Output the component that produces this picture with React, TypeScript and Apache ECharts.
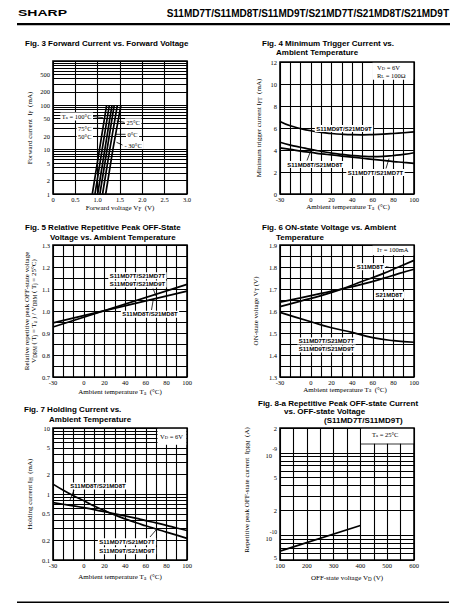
import React, { useEffect, useRef } from 'react';
import * as echarts from 'echarts';

// ---------- Fig. 3 Forward current vs forward voltage ----------
const fig3Current = [1, 10, 100];
const fig3V100 = [0.88, 1.04, 1.2];
const fig3V75 = [0.94, 1.1, 1.26];
const fig3V50 = [1.0, 1.16, 1.32];
const fig3V25 = [1.05, 1.21, 1.37];
const fig3V0 = [1.11, 1.27, 1.44];
const fig3Vm30 = [1.18, 1.34, 1.52];
const fig3YTicks = [1, 2, 5, 10, 20, 50, 100, 200, 500];

// ---------- Fig. 4 Minimum trigger current ----------
const fig4Temp = [-30, -20, -10, 0, 10, 20, 30, 40, 50, 60, 70, 80, 90, 100];
const fig4MD9 = [6.6, 6.2, 5.95, 5.75, 5.6, 5.5, 5.43, 5.39, 5.38, 5.4, 5.44, 5.5, 5.57, 5.65];
const fig4Upper = [4.7, 4.45, 4.25, 4.05, 3.88, 3.72, 3.6, 3.5, 3.43, 3.4, 3.42, 3.5, 3.6, 3.75];
const fig4Lower = [4.2, 4.05, 3.9, 3.78, 3.65, 3.55, 3.45, 3.35, 3.25, 3.15, 3.05, 2.95, 2.87, 2.78];

// ---------- Fig. 5 Relative repetitive peak OFF-state voltage ----------
const fig5Temp = [-30, 100];
const fig5MD79 = [0.927, 1.121];
const fig5MD8 = [0.946, 1.09];

// ---------- Fig. 6 ON-state voltage ----------
const fig6Temp = [-30, -10, 10, 30, 50, 70, 85, 100];
const fig6S11MD8 = [1.62, 1.645, 1.67, 1.7, 1.735, 1.77, 1.8, 1.83];
const fig6S21MD8 = [1.64, 1.66, 1.68, 1.7, 1.722, 1.748, 1.77, 1.79];
const fig6TempB = [-30, 0, 20, 40, 60, 80, 100];
const fig6MD79 = [1.594, 1.551, 1.524, 1.503, 1.479, 1.465, 1.458];

// ---------- Fig. 7 Holding current ----------
const fig7Temp = [-30, -20, -10, 0, 10, 20, 30, 40, 50, 60, 70, 80, 90, 100];
const fig7Steep = [1.41, 1.14, 0.94, 0.79, 0.66, 0.56, 0.48, 0.42, 0.37, 0.33, 0.295, 0.265, 0.238, 0.213];
const fig7Shallow = [0.74, 0.7, 0.66, 0.62, 0.58, 0.54, 0.5, 0.465, 0.43, 0.395, 0.365, 0.335, 0.305, 0.28];
const fig7YTicks = [0.1, 0.2, 0.5, 1, 2, 5, 10];

// ---------- Fig. 8-a Repetitive peak OFF-state current ----------
const fig8Voltage = [100, 400];
const fig8Current = [6.4e-11, 1.31e-10];
const fig8YTicks = [5e-11, 1e-10, 2e-10, 5e-10, 1e-9, 2e-9];

const serif = '"Liberation Serif", "Times New Roman", serif';
const sans = '"Liberation Sans", Arial, sans-serif';
const tickFont = { fontFamily: serif, fontSize: 6.5, color: '#000' };
const gridLine = { show: true, lineStyle: { color: '#000', width: 1.1 } };

const grids = [
  { left: 53, top: 61, width: 134, height: 133 },
  { left: 280, top: 62, width: 134, height: 132 },
  { left: 53, top: 245, width: 134, height: 132 },
  { left: 280, top: 245, width: 134, height: 132 },
  { left: 53, top: 428, width: 134, height: 132 },
  { left: 280, top: 428, width: 134, height: 132 },
];

function tempXAxis(i: number) {
  return {
    type: 'value', gridIndex: i, min: -30, max: 100, interval: 10,
    axisLine: { show: false }, axisTick: { show: false }, splitLine: gridLine,
    axisLabel: { ...tickFont, margin: 1.5, showMinLabel: true, showMaxLabel: true,
      formatter: (v: number) => (v === -30 || (v >= 0 && v % 20 === 0) ? String(v) : '') },
  };
}
function linYAxis(i: number, min: number, max: number, interval: number, fmt: (v: number) => string) {
  return {
    type: 'value', gridIndex: i, min, max, interval,
    axisLine: { show: false }, axisTick: { show: false }, splitLine: gridLine,
    axisLabel: { ...tickFont, margin: 3, showMinLabel: true, showMaxLabel: true, formatter: fmt },
  };
}
function logYAxis(i: number, min: number, max: number) {
  return {
    type: 'log', logBase: 10, gridIndex: i, min, max,
    axisLine: { show: false }, axisTick: { show: false }, splitLine: { show: false },
    axisLabel: { show: false }, minorTick: { show: false }, minorSplitLine: { show: false },
  };
}
function logLines(min: number, max: number, ticks: number[], fmt: (m: number, e: number) => string) {
  const out: any[] = [];
  for (let e = Math.floor(Math.log10(min)); e <= Math.ceil(Math.log10(max)); e++) {
    for (let m = 1; m <= 9; m++) {
      const v = m * Math.pow(10, e);
      if (v < min * 0.999 || v > max * 1.001) continue;
      const hit = ticks.some((t) => Math.abs(t - v) / v < 1e-6);
      const s = fmt(m, e);
      const isBottom = Math.abs(v - min) / v < 1e-6;
      out.push({
        yAxis: v,
        label: hit ? { show: true, formatter: () => s, padding: isBottom ? [0, 0, 6, 0] : 0 } : { show: false },
      });
    }
  }
  return out;
}
function curve(i: number, xs: number[], ys: number[], smooth = false, extra: any = {}) {
  return {
    type: 'line', xAxisIndex: i, yAxisIndex: i, data: xs.map((x, k) => [x, ys[k]]),
    showSymbol: false, symbol: 'none', smooth, silent: true, z: 5,
    lineStyle: { color: '#000', width: 1.7 }, ...extra,
  };
}
function gridMarkLine(data: any[], labelExtra: any = {}) {
  return {
    markLine: {
      silent: true, symbol: ['none', 'none'], animation: false, precision: 20,
      lineStyle: { color: '#000', width: 1.1, type: 'solid' },
      emphasis: { disabled: true },
      label: { show: false, position: 'start', distance: 3, ...tickFont, ...labelExtra },
      data,
    },
  };
}

// ---------- graphic helpers ----------
function txt(text: string, x: number, y: number, o: any = {}) {
  const size = o.size ?? 7;
  const family = o.family ?? serif;
  const weight = o.weight ?? 'normal';
  const align = o.align ?? 'left';
  const valign = o.valign ?? 'middle';
  return {
    type: 'text', x, y, rotation: o.rotation ?? 0, scaleX: o.scaleX ?? 1, z: 100, silent: true,
    style: {
      text, x: 0, y: 0, fontSize: size, fontFamily: family, fontWeight: weight, fill: '#000',
      align, textAlign: align, verticalAlign: valign, textVerticalAlign: valign,
      backgroundColor: o.bg, padding: o.bg ? [0.5, 1.5] : 0,
      rich: {
        s: { fontSize: size * 0.72, fontFamily: family, fontWeight: weight, fill: '#000', verticalAlign: 'bottom' },
      },
    },
  };
}
const bold = (text: string, x: number, y: number, o: any = {}) =>
  txt(text, x, y, { size: 6, family: sans, weight: 'bold', align: 'center', bg: '#fff', ...o });
const title = (text: string, x: number, y: number) => txt(text, x, y, { size: 8, family: sans, weight: 'bold' });
const lead = (x1: number, y1: number, x2: number, y2: number) => ({
  type: 'line', z: 100, silent: true, shape: { x1, y1, x2, y2 }, style: { stroke: '#000', lineWidth: 0.8 },
});
const wrect = (x: number, y: number, w: number, h: number) => ({
  type: 'rect', z: 90, silent: true, shape: { x, y, width: w, height: h }, style: { fill: '#fff' },
});
const rot = Math.PI / 2;

export default function App() {
  const ref = useRef<HTMLDivElement>(null);
  useEffect(() => {
    if (!ref.current) return;
    const chart = echarts.init(ref.current, null, { renderer: 'svg' });
    const plainFmt = (m: number, e: number) => String(+(m * Math.pow(10, e)).toPrecision(1));
    const fig8Fmt = (m: number, e: number) => (m === 1 ? `{ee|${e}}\n{bb|10}` : String(m));

    const option: any = {
      animation: false,
      backgroundColor: '#fff',
      grid: grids.map((g) => ({ ...g, show: true, borderColor: '#000', borderWidth: 1.6, backgroundColor: 'transparent', containLabel: false, outerBoundsMode: 'none' })),
      xAxis: [
        {
          type: 'value', gridIndex: 0, min: 0, max: 3, interval: 0.5,
          axisLine: { show: false }, axisTick: { show: false }, splitLine: gridLine,
          axisLabel: { ...tickFont, margin: 1.5, showMinLabel: true, showMaxLabel: true, formatter: (v: number) => (v === 0 ? '0' : v.toFixed(1)) },
        },
        tempXAxis(1),
        tempXAxis(2),
        tempXAxis(3),
        tempXAxis(4),
        {
          type: 'value', gridIndex: 5, min: 100, max: 600, interval: 50,
          axisLine: { show: false }, axisTick: { show: false }, splitLine: gridLine,
          axisLabel: { ...tickFont, margin: 1.5, showMinLabel: true, showMaxLabel: true, formatter: (v: number) => (v % 100 === 0 ? String(v) : '') },
        },
      ],
      yAxis: [
        logYAxis(0, 1, 1000),
        linYAxis(1, 0, 12, 2, (v) => String(v)),
        linYAxis(2, 0.7, 1.3, 0.05, (v) => (Math.round(v * 100) % 10 === 0 ? v.toFixed(1) : '')),
        linYAxis(3, 1.3, 1.9, 0.05, (v) => (Math.round(v * 100) % 10 === 0 ? v.toFixed(1) : '')),
        logYAxis(4, 0.1, 10),
        logYAxis(5, 5e-11, 2e-9),
      ],
      series: [
        curve(0, fig3V100, fig3Current, false, gridMarkLine(logLines(1, 1000, fig3YTicks, plainFmt))),
        curve(0, fig3V75, fig3Current),
        curve(0, fig3V50, fig3Current),
        curve(0, fig3V25, fig3Current),
        curve(0, fig3V0, fig3Current),
        curve(0, fig3Vm30, fig3Current),

        curve(1, fig4Temp, fig4MD9, true),
        curve(1, fig4Temp, fig4Upper, true),
        curve(1, fig4Temp, fig4Lower, true),

        curve(2, fig5Temp, fig5MD79),
        curve(2, fig5Temp, fig5MD8),

        curve(3, fig6Temp, fig6S11MD8, true),
        curve(3, fig6Temp, fig6S21MD8, true),
        curve(3, fig6TempB, fig6MD79, true),

        curve(4, fig7Temp, fig7Steep, true, gridMarkLine(logLines(0.1, 10, fig7YTicks, plainFmt))),
        curve(4, fig7Temp, fig7Shallow, true),

        curve(5, fig8Voltage, fig8Current, false, gridMarkLine(logLines(5e-11, 2e-9, fig8YTicks, fig8Fmt), {
          rich: {
            ee: { fontFamily: serif, fontSize: 5.5, color: '#000', align: 'right', lineHeight: 6 },
            bb: { fontFamily: serif, fontSize: 6.5, color: '#000', align: 'right', padding: [0, 5, 0, 0], lineHeight: 7 },
          },
        })),
      ],
      graphic: [
        // header
        txt('SHARP', 18, 13.5, { size: 8.5, family: sans, weight: 'bold', scaleX: 1.65 }),
        txt('S11MD7T/S11MD8T/S11MD9T/S21MD7T/S21MD8T/S21MD9T', 449, 13.5, { size: 10, family: sans, weight: 'bold', align: 'right' }),
        { type: 'rect', z: 100, silent: true, shape: { x: 17, y: 23, width: 433, height: 2.2 }, style: { fill: '#000' } },
        { type: 'rect', z: 100, silent: true, shape: { x: 17, y: 601.5, width: 432, height: 1.5 }, style: { fill: '#000' } },

        // titles
        title('Fig. 3 Forward Current vs. Forward Voltage', 25, 43),
        title('Fig. 4 Minimum Trigger Current vs.', 262, 43),
        title('Ambient Temperature', 276, 52.5),
        title('Fig. 5 Relative Repetitive Peak OFF-State', 25, 227),
        title('Voltage vs. Ambient Temperature', 50, 237),
        title('Fig. 6 ON-state Voltage vs. Ambient', 262, 227),
        title('Temperature', 276, 237),
        title('Fig. 7 Holding Current vs.', 24, 409),
        title('Ambient Temperature', 49, 419),
        title('Fig. 8-a Repetitive Peak OFF-state Current', 258, 403),
        title('vs. OFF-state Voltage', 284, 411.5),
        title('(S11MD7T/S11MD9T)', 324, 420.5),

        // axis names
        txt('Forward current  I{s|F}  (mA)', 30, 128, { rotation: rot, align: 'center' }),
        txt('Forward voltage V{s|F}  (V)', 120, 208, { align: 'center' }),
        txt('Minimum trigger current I{s|FT}  (mA)', 259, 128, { rotation: rot, align: 'center' }),
        txt('Ambient temperature T{s|a}  (°C)', 348, 207, { align: 'center' }),
        txt('Relative repetitive peak OFF-state voltage', 27, 311, { rotation: rot, align: 'center' }),
        txt('V{s|DRM} ( T{s|j} = T{s|a} ) / V{s|DRM} ( T{s|j} = 25°C)', 34, 311, { rotation: rot, align: 'center' }),
        txt('Ambient temperature T{s|a}  (°C)', 120, 392, { align: 'center' }),
        txt('ON-state voltage V{s|T} (V)', 256, 311, { rotation: rot, align: 'center' }),
        txt('Ambient temperature T{s|a}  (°C)', 345, 389.5, { align: 'center' }),
        txt('Holding current I{s|H}  (mA)', 30, 494, { rotation: rot, align: 'center' }),
        txt('Ambient temperature T{s|a}  (°C)', 120, 577, { align: 'center' }),
        txt('Repetitive peak OFF-state current  I{s|DRM}  (A)', 247, 490, { rotation: rot, align: 'center' }),
        txt('OFF-state voltage V{s|D} (V)', 347, 578, { align: 'center' }),

        // Fig 3 annotations
        txt('T{s|a} = 100°C', 93, 116.5, { size: 6.5, align: 'right', bg: '#fff' }),
        txt('75°C', 93, 128.3, { size: 6.5, align: 'right', bg: '#fff' }),
        txt('50°C', 93, 136.5, { size: 6.5, align: 'right', bg: '#fff' }),
        txt('25°C', 125, 122.3, { size: 6.5, bg: '#fff' }),
        txt('0°C', 126, 134.3, { size: 6.5, bg: '#fff' }),
        txt('- 30°C', 123, 145, { size: 6.5, bg: '#fff' }),
        lead(93, 116.5, 103, 117.7),
        lead(93, 128.3, 99.5, 128.3),
        lead(93, 136.5, 98.3, 136.5),
        lead(116.5, 121, 124.5, 122.3),
        lead(115, 134.3, 125.5, 134.3),
        lead(116.5, 142.3, 122.5, 145),

        // Fig 4 annotations
        wrect(372.5, 62.8, 40.7, 17),
        txt('V{s|D} = 6V', 377, 67, { size: 6.5 }),
        txt('R{s|L} = 100Ω', 377, 75.5, { size: 6.5 }),
        bold('S11MD9T/S21MD9T', 344, 128.5),
        bold('S11MD8T/S21MD8T', 315, 164.5),
        lead(307, 160.5, 311, 150),
        bold('S11MD7T/S21MD7T', 375.5, 172.5),
        lead(386, 168.5, 389, 158.5),

        // Fig 5 annotations
        bold('S11MD7T/S21MD7T', 137.5, 275.7),
        bold('S11MD9T/S21MD9T', 137.5, 284),
        lead(153, 288.5, 156, 296),
        bold('S11MD8T/S21MD8T', 150, 314.3),
        lead(151.5, 310, 153, 301),

        // Fig 6 annotations
        wrect(372.5, 245.8, 40.7, 9.5),
        txt('I{s|T} = 100mA', 377, 249.8, { size: 6.5 }),
        bold('S11MD8T', 370, 266.7),
        lead(386, 266.7, 391, 267.8),
        bold('S21MD8T', 389, 295),
        bold('S11MD7T/S21MD7T', 326.5, 341),
        bold('S11MD9T/S21MD9T', 326.5, 349),

        // Fig 7 annotations
        wrect(157.5, 428.8, 28.7, 16),
        txt('V{s|D} = 6V', 160, 436.7, { size: 6.5 }),
        bold('S11MD8T/S21MD8T', 98, 486),
        lead(70, 500, 74, 490),
        bold('S11MD7T/S21MD7T', 127, 541.7),
        bold('S11MD9T/S21MD9T', 127, 550.7),
        lead(150, 537, 156, 530),

        // Fig 8 annotations
        wrect(361.2, 428.8, 52, 15),
        lead(360.4, 444, 414, 444),
        txt('T{s|a} = 25°C', 372, 434.5, { size: 6.5 }),
      ],
    };
    chart.setOption(option);
    return () => chart.dispose();
  }, []);
  return (
    <div
      ref={ref}
      style={{ position: 'absolute', left: 0, top: 0, width: 467, height: 611, background: '#fff' }}
    />
  );
}
